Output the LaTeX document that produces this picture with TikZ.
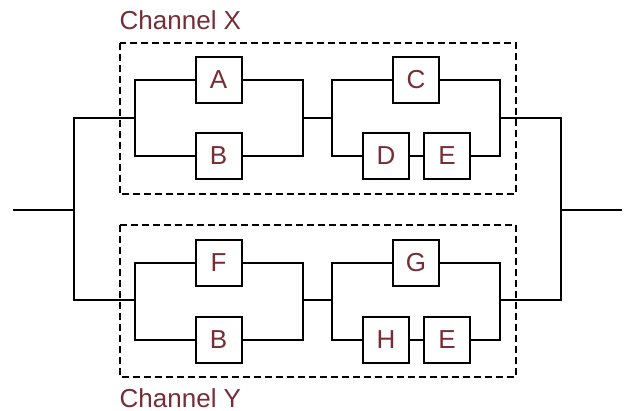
\documentclass[tikz,border=0pt]{standalone}
\usepackage{fontspec}
\setmainfont{Liberation Sans}
\definecolor{labelred}{HTML}{772D35}
\begin{document}
\begin{tikzpicture}[x=1pt,y=-1pt,
  wire/.style={line width=2pt, line join=miter},
  block/.style={draw, line width=2pt, fill=white, minimum size=46pt,
    inner sep=0pt, text=labelred, font=\fontsize{26}{30}\selectfont},
  channel/.style={draw, dash pattern=on 7pt off 4pt, line width=2pt},
  chlabel/.style={text=labelred, font=\fontsize{26}{30}\selectfont,
    anchor=base west, inner sep=0pt}]
\useasboundingbox (0,0) rectangle (627,410);

% channel frames and their labels
\draw[channel] (119.5,42.5) rectangle (515.5,194);
\draw[channel] (119.5,225) rectangle (515.5,377);
\node[chlabel] (lblx) at (119.5,29.5) {Channel X};
\node[chlabel] (lbly) at (119.5,407.5) {Channel Y};

% components of channel X
\node[block] (A)  at (218.5,80)  {A};
\node[block] (B1) at (218.5,156) {B};
\node[block] (C)  at (416,80)    {C};
\node[block] (D)  at (386,156)   {D};
\node[block] (E1) at (447,156)   {E};

% components of channel Y
\node[block] (F)  at (218.5,263)   {F};
\node[block] (B2) at (218.5,339.5) {B};
\node[block] (G)  at (416,263)     {G};
\node[block] (H)  at (386,339.5)   {H};
\node[block] (E2) at (447,339.5)   {E};

% junction points
\coordinate (in)  at (13,210);
\coordinate (jl)  at (74,210);
\coordinate (xin) at (74,118);
\coordinate (yin) at (74,300);
\coordinate (x1l) at (135,118);
\coordinate (x1r) at (302.5,118);
\coordinate (x2l) at (332,118);
\coordinate (x2r) at (500,118);
\coordinate (y1l) at (135,300);
\coordinate (y1r) at (302.5,300);
\coordinate (y2l) at (332,300);
\coordinate (y2r) at (500,300);
\coordinate (xout) at (561,118);
\coordinate (yout) at (561,300);
\coordinate (jr)  at (561,209.5);
\coordinate (out) at (622,209.5);

% input and output split
\draw[wire] (in) -- (jl);
\draw[wire] (x1l) -- (xin) -- (yin) -- (y1l);
\draw[wire] (x2r) -- (xout) -- (yout) -- (y2r);
\draw[wire] (jr) -- (out);

% channel X wiring
\draw[wire] (A) -| (x1l) |- (B1);
\draw[wire] (A) -| (x1r) |- (B1);
\draw[wire] (x1r) -- (x2l);
\draw[wire] (C) -| (x2l) |- (D);
\draw[wire] (D) -- (E1);
\draw[wire] (C) -| (x2r) |- (E1);

% channel Y wiring
\draw[wire] (F) -| (y1l) |- (B2);
\draw[wire] (F) -| (y1r) |- (B2);
\draw[wire] (y1r) -- (y2l);
\draw[wire] (G) -| (y2l) |- (H);
\draw[wire] (H) -- (E2);
\draw[wire] (G) -| (y2r) |- (E2);
\end{tikzpicture}
\end{document}
